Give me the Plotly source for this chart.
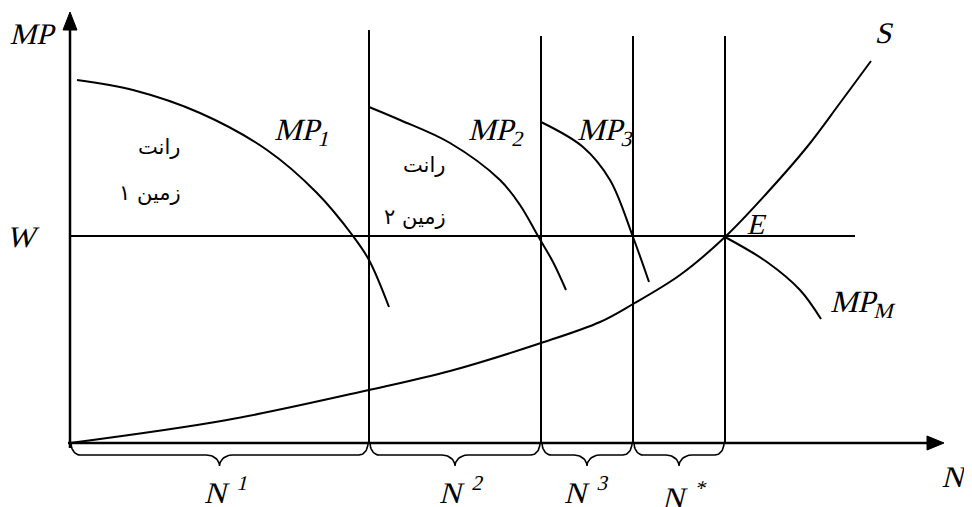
# ==========================================
# Land rent diagram (MP, W, S, N)
# ==========================================

import numpy as np
import plotly.graph_objects as go

# ==========================================
# Data (diagram units, origin at axes corner)
# ==========================================

MP1_X = [7, 63, 130, 197, 247, 283, 299, 319]
MP1_Y = [363, 353, 330, 293, 250, 207, 183, 136]

MP2_X = [299, 330, 380, 430, 450, 468, 483, 496]
MP2_Y = [336, 323, 300, 263, 238, 207, 181, 153]

MP3_X = [471, 513, 540, 563, 579]
MP3_Y = [321, 296, 263, 206, 161]

S_X = [0, 157, 299, 380, 471, 530, 563, 610, 655, 697, 737, 770, 801]
S_Y = [0, 23, 53, 72, 100, 121, 139, 168, 206, 250, 296, 340, 382]

MPM_X = [655, 697, 730, 751]
MPM_Y = [206, 181, 153, 124]

WAGE = 207
WAGE_END = 785

BOUNDS = [0, 299, 471, 563, 655]
BOUND_TOPS = [413, 407, 407, 407]

SEG_LABELS = ["N <sup>1</sup>", "N <sup>2</sup>",
              "N <sup>3</sup>", "N <sup>*</sup>"]

BLACK = "#000000"
SERIF = "Liberation Serif"
ARABIC = "DejaVu Sans"

# page body has an 8px margin, so the figure is shrunk by that much
PAGE_MARGIN = 8

# no serif italic face is installed: slant the upright serif instead
SLANT_JS = """
var gd = document.getElementById('{plot_id}');
gd.querySelectorAll('.annotation-text-g text').forEach(function (t) {
    if ((t.style.fontFamily || '').indexOf('Liberation') >= 0) {
        t.style.transformBox = 'fill-box';
        t.style.transformOrigin = 'center';
        t.style.transform = 'skewX(-14deg)';
    }
});
"""

fig = go.Figure()


def add_line(x, y, width=2, shape="linear", fill=None):

    fig.add_trace(
        go.Scatter(
            x=x,
            y=y,
            mode="lines",
            line=dict(color=BLACK, width=width, shape=shape),
            fill=fill,
            fillcolor=BLACK,
            hoverinfo="skip",
            showlegend=False
        )
    )


# ==========================================
# Axes with arrow heads
# ==========================================

add_line([0, 0], [-5, 414], width=2.5)
add_line([-7, 0, 7, -7], [413, 431, 413, 413], width=1, fill="toself")

add_line([-2, 858], [0, 0], width=2.5)
add_line([857, 874, 857, 857], [7, 0, -7, 7], width=1, fill="toself")

# ==========================================
# Curves
# ==========================================

add_line([0, WAGE_END], [WAGE, WAGE])

for bx, top in zip(BOUNDS[1:], BOUND_TOPS):
    add_line([bx, bx], [0, top])

for xs, ys in [(MP1_X, MP1_Y), (MP2_X, MP2_Y), (MP3_X, MP3_Y),
               (S_X, S_Y), (MPM_X, MPM_Y)]:
    add_line(xs, ys, shape="spline")

# ==========================================
# Braces under the N axis
# ==========================================


def brace(a, b, depth=12, tip=23, r=9, rt=13):

    m = (a + b) / 2
    t = np.linspace(0, np.pi / 2, 14)
    xs, ys = [], []

    xs += list(a + r - r * np.cos(t))
    ys += list(-depth * np.sin(t))

    xs += list(m - rt + rt * np.sin(t))
    ys += list(-depth - (tip - depth) * (1 - np.cos(t)))

    xs += list(m + rt - rt * np.cos(t))
    ys += list(-depth - (tip - depth) * (1 - np.sin(t)))

    xs += list(b - r + r * np.sin(t))
    ys += list(-depth * np.cos(t))

    return xs, ys


for a, b in zip(BOUNDS[:-1], BOUNDS[1:]):
    bx, by = brace(a + 1, b - 1)
    add_line(bx, by, width=1.6)

# ==========================================
# Labels
# ==========================================


def label(x, y, text, size=31, family=SERIF, xanchor="center"):

    fig.add_annotation(
        x=x,
        y=y,
        text=text,
        showarrow=False,
        xanchor=xanchor,
        yanchor="middle",
        font=dict(size=size, color=BLACK, family=family)
    )


label(-37, 410, "MP", size=30)
label(-47, 207, "W", size=30)
label(815, 411, "S", size=30)
label(688, 219, "E", size=29)
label(885, -33, "N", size=30)

label(204, 311, "MP<sub>1</sub>", xanchor="left")
label(398, 311, "MP<sub>2</sub>", xanchor="left")
label(507, 311, "MP<sub>3</sub>", xanchor="left")
label(760, 139, "MP<sub>M</sub>", xanchor="left")

label(89, 296, "رانت", size=21, family=ARABIC)
label(80, 250, "زمین ۱", size=21, family=ARABIC)
label(354, 278, "رانت", size=21, family=ARABIC)
label(345, 226, "زمین ۲", size=21, family=ARABIC)

label_x = [135, 370, 495, 593]
label_y = [-47, -47, -47, -52]

for lx, ly, txt in zip(label_x, label_y, SEG_LABELS):
    label(lx, ly, txt, size=30, xanchor="left")

# ==========================================
# Layout
# ==========================================

fig.update_layout(
    width=972 - PAGE_MARGIN,
    height=507 - PAGE_MARGIN,
    margin=dict(l=0, r=0, t=0, b=0),
    paper_bgcolor="white",
    plot_bgcolor="white",
    showlegend=False,
    xaxis=dict(range=[-70 + PAGE_MARGIN, 902], visible=False, fixedrange=True),
    yaxis=dict(range=[-64, 443 - PAGE_MARGIN], visible=False, fixedrange=True)
)

fig.write_html("out.html", post_script=SLANT_JS)
